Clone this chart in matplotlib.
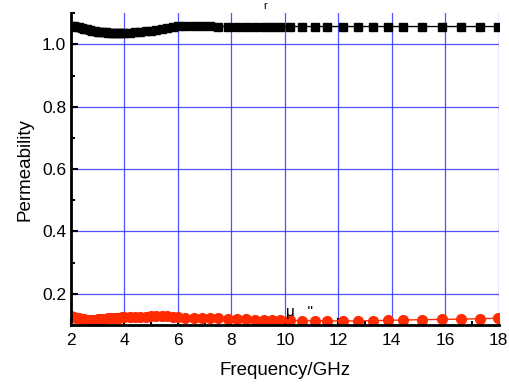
import matplotlib
matplotlib.use("Agg")
from matplotlib import pyplot as plt
from matplotlib.ticker import MultipleLocator

plt.rcParams['font.family'] = ['Liberation Sans', 'DejaVu Sans']

# frequency points (GHz)
freq = [2.0, 2.1, 2.2, 2.3, 2.4, 2.5, 2.6, 2.7, 2.8, 2.9, 3.0,
        3.1, 3.2, 3.3, 3.4, 3.5, 3.6, 3.7, 3.8, 3.9, 4.0,
        4.2, 4.4, 4.6, 4.8, 5.0, 5.2, 5.4, 5.6, 5.8, 6.0,
        6.26, 6.6, 6.9, 7.2, 7.5, 7.87, 8.21, 8.55, 8.88, 9.21,
        9.51, 9.81, 10.19, 10.64, 11.12, 11.57, 12.17, 12.73, 13.29, 13.85,
        14.41, 15.12, 15.87, 16.58, 17.29, 17.96]

# real part mu'
mu_real = [1.060, 1.058, 1.056, 1.054, 1.052, 1.050, 1.048, 1.046, 1.044, 1.042, 1.041,
           1.040, 1.039, 1.038, 1.037, 1.037, 1.036, 1.036, 1.036, 1.036, 1.036,
           1.037, 1.038, 1.040, 1.042, 1.044, 1.047, 1.050, 1.053, 1.056, 1.058,
           1.058, 1.058, 1.058, 1.058, 1.057, 1.057, 1.057, 1.057, 1.057, 1.057,
           1.057, 1.057, 1.057, 1.057, 1.057, 1.057, 1.057, 1.057, 1.057, 1.057,
           1.057, 1.057, 1.057, 1.057, 1.057, 1.057]

# imaginary part mu''
mu_imag = [0.130, 0.126, 0.123, 0.121, 0.119, 0.118, 0.117, 0.117, 0.117, 0.117, 0.118,
           0.118, 0.119, 0.120, 0.121, 0.122, 0.123, 0.123, 0.124, 0.125, 0.125,
           0.126, 0.126, 0.127, 0.127, 0.128, 0.128, 0.128, 0.128, 0.127, 0.127,
           0.124, 0.123, 0.122, 0.122, 0.121, 0.120, 0.119, 0.118, 0.117, 0.116,
           0.116, 0.115, 0.115, 0.114, 0.114, 0.113, 0.113, 0.113, 0.114, 0.115,
           0.116, 0.117, 0.118, 0.119, 0.120, 0.122]

fig = plt.figure(figsize=(5.1, 3.86), dpi=100)
ax = fig.add_axes([0.139, 0.158, 0.839, 0.808])

ax.plot(freq, mu_real, c='black', lw=1, marker='s', markersize=6)
ax.plot(freq, mu_imag, c='#ff2a00', lw=1, marker='o', markersize=7)

ax.set_xlim(2, 18)
ax.set_ylim(0.1, 1.1)
ax.xaxis.set_major_locator(MultipleLocator(2))
ax.xaxis.set_minor_locator(MultipleLocator(1))
ax.yaxis.set_minor_locator(MultipleLocator(0.1))
ax.set_yticks([0.2, 0.4, 0.6, 0.8, 1.0])

ax.grid(True, which='major', color='#3333ff', lw=0.9, alpha=0.85)
ax.set_axisbelow(True)
ax.get_xgridlines()[-1].set_visible(False)

for side in ['top', 'right']:
    ax.spines[side].set_visible(False)
for side in ['left', 'bottom']:
    ax.spines[side].set_linewidth(2)

ax.tick_params(axis='both', which='major', direction='in', length=5, width=1.5, labelsize=12.5)
ax.tick_params(axis='x', which='major', pad=6)
ax.tick_params(axis='both', which='minor', direction='in', length=3, width=1.5)

ax.set_xlabel('Frequency/GHz', fontsize=13.5, labelpad=10)
ax.set_ylabel('Permeability', fontsize=13.5, labelpad=6)

ax.text(9.2, 1.113, 'r', fontsize=8, clip_on=False)
ax.text(10.04, 0.129, 'μ   "', fontsize=11)

plt.savefig('out.png', dpi=100)
